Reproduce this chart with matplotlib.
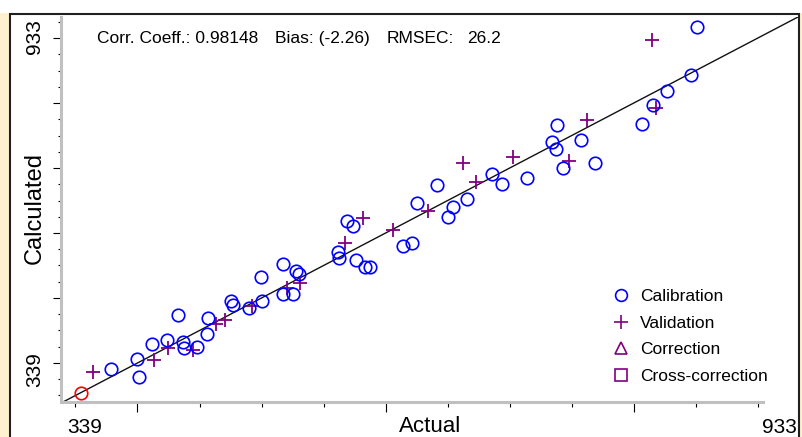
import numpy as np
import matplotlib
matplotlib.use('Agg')
import matplotlib.pyplot as plt
from matplotlib.patches import Rectangle
from matplotlib.lines import Line2D

plt.rcParams['font.family'] = ['Liberation Sans', 'DejaVu Sans']

# values (actual vs calculated)
cal_actual = [313.4, 338.5, 340.8, 353.2, 367.0, 377.6, 382.3, 384.0, 395.7, 406.8,
              405.9, 428.4, 430.7, 446.1, 457.7, 458.7, 478.0, 491.0, 493.2, 478.1,
              488.2, 531.3, 531.5, 539.6, 545.6, 548.7, 556.8, 561.3, 592.9, 601.5,
              606.3, 626.1, 636.6, 641.4, 654.8, 678.1, 688.3, 711.9, 735.6, 739.4,
              740.9, 746.7, 763.3, 777.0, 822.3, 832.9, 846.3, 868.7, 875.0]
cal_calc = [328.9, 345.7, 312.8, 372.8, 381.0, 427.3, 377.4, 365.9, 368.8, 421.2,
            392.4, 451.4, 444.1, 439.0, 496.7, 452.9, 520.5, 506.8, 502.0, 465.1,
            465.1, 541.0, 531.3, 599.4, 589.4, 527.2, 515.0, 513.9, 552.3, 557.8,
            631.4, 664.3, 606.4, 623.6, 638.2, 684.4, 666.2, 676.6, 743.5, 729.6,
            774.0, 694.9, 746.6, 704.0, 775.3, 810.6, 836.1, 865.4, 953.7]
val_actual = [296.7, 355.0, 368.5, 392.4, 414.5, 422.8, 448.8, 482.2, 494.9, 537.4,
              555.2, 583.9, 617.2, 651.0, 663.1, 698.8, 752.1, 769.1, 835.4, 831.3]
val_calc = [322.5, 344.5, 366.4, 362.7, 409.4, 417.6, 443.2, 475.5, 485.2, 559.2,
            603.5, 581.2, 616.8, 704.0, 670.4, 716.1, 708.8, 783.1, 804.5, 929.4]
sel_actual = [284.6]
sel_calc = [283.6]

lo, hi = 339, 933
corr, bias, rmsec = 0.98148, -2.26, 26.2
axis_min, axis_max = 267.7, 971.4

W, H = 803, 437
fig = plt.figure(figsize=(W / 100, H / 100), dpi=100, facecolor='white')

def fp(x, y):
    return x / W, 1 - y / H

# panel background + frame
fig.add_artist(Rectangle((0, 0), 1, (H - 13) / H, transform=fig.transFigure,
                         facecolor='#fdf1d0', edgecolor='none', zorder=-3))
fig.add_artist(Rectangle((10.5 / W, -0.02), 789 / W, (H - 14) / H + 0.02,
                         transform=fig.transFigure, facecolor='white',
                         edgecolor='#202020', lw=1.5, zorder=-2))

ax = fig.add_axes([63 / W, 35 / H, 735 / W, 385 / H])
ax.patch.set_alpha(0)
ax.set_xlim(axis_min, axis_max)
ax.set_ylim(axis_min, axis_max)

ax.plot([axis_min, axis_max], [axis_min, axis_max], color='#111111', lw=1.0, zorder=1)
ax.plot(val_actual, val_calc, ls='none', marker='+', color='#800080', ms=10, mew=1.3, zorder=2)
ax.plot(cal_actual, cal_calc, ls='none', marker='o', mfc='none', mec='#0000ff', ms=9, mew=1.2, zorder=3)
ax.plot(sel_actual, sel_calc, ls='none', marker='o', mfc='none', mec='#ff0000', ms=9, mew=1.2, zorder=3,
        clip_on=False)

for s in ['top', 'right']:
    ax.spines[s].set_visible(False)
for s in ['left', 'bottom']:
    ax.spines[s].set_color('#c0c0c0')
    ax.spines[s].set_linewidth(2.2)
ax.spines['left'].set_position(('outward', 1.5))
ax.spines['bottom'].set_bounds(axis_min, 938)

step = (hi - lo) / 10
ax.set_xticks([lo, lo + 4 * step, lo + 8 * step])
ax.set_xticks(np.arange(lo - step, hi + 1, step), minor=True)
ystep = (hi - lo) / 5
ax.set_yticks(np.arange(lo, hi + 1, ystep))
ax.set_yticks(np.arange(lo - 2 * ystep / 4, hi + ystep / 2, ystep / 4), minor=True)
ax.tick_params(which='both', labelbottom=False, labelleft=False, direction='out',
               color='black', width=0.8)
ax.tick_params(axis='x', which='major', length=7)
ax.tick_params(axis='x', which='minor', length=3.5)
ax.tick_params(axis='y', which='major', length=5.5)
ax.tick_params(axis='y', which='minor', length=2.5)

# stats line
fig.text(*fp(97, 43), f'Corr. Coeff.: {corr}', fontsize=12.5, va='baseline')
fig.text(*fp(275, 43), f'Bias: ({bias})', fontsize=12.5, va='baseline')
fig.text(*fp(387, 43), 'RMSEC:', fontsize=12.5, va='baseline')
fig.text(*fp(467, 43), f'{rmsec}', fontsize=12.5, va='baseline')

# axis labels
fig.text(*fp(430, 437), 'Actual', fontsize=16, ha='center', va='bottom')
fig.text(*fp(85, 437), str(lo), fontsize=15, ha='center', va='bottom')
fig.text(*fp(797, 437), str(hi), fontsize=15, ha='right', va='bottom')
fig.text(*fp(35, 208), 'Calculated', fontsize=17, rotation=90, ha='center', va='center')
fig.text(*fp(35, 370), str(lo), fontsize=15, rotation=90, ha='center', va='center')
fig.text(*fp(35, 37), str(hi), fontsize=15, rotation=90, ha='center', va='center')

handles = [
    Line2D([], [], ls='none', marker='o', mfc='none', mec='#0000ff', ms=8.5, mew=1.2, label='Calibration'),
    Line2D([], [], ls='none', marker='+', color='#800080', ms=10, mew=1.2, label='Validation'),
    Line2D([], [], ls='none', marker='^', mfc='none', mec='#800080', ms=9, mew=1.2, label='Correction'),
    Line2D([], [], ls='none', marker='s', mfc='none', mec='#800080', ms=9, mew=1.2, label='Cross-correction'),
]
fig.legend(handles=handles, loc='upper left', bbox_to_anchor=fp(612, 289), frameon=False,
           fontsize=12.5, handlelength=1.0, handletextpad=0.6, labelspacing=0.66,
           borderpad=0, borderaxespad=0)

fig.savefig('out.png', dpi=100, facecolor=fig.get_facecolor())
